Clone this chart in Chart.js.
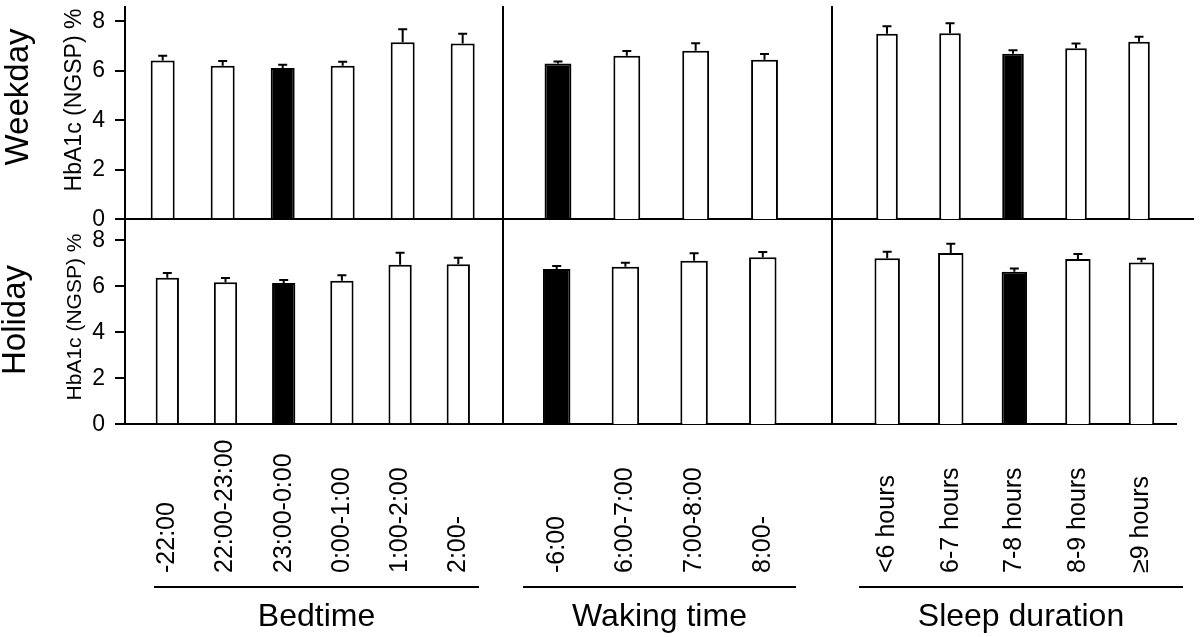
<!DOCTYPE html>
<html>
<head>
<meta charset="utf-8">
<script src="https://cdn.jsdelivr.net/npm/chart.js@4"></script>
<style>
  html, body { margin: 0; padding: 0; background: #fff; }
  #wrap { position: relative; width: 1200px; height: 637px; overflow: hidden; }
  #wrap canvas { position: absolute; left: 0; top: 0; }
</style>
</head>
<body>
<div id="wrap">
  <canvas id="c0" width="1200" height="637"></canvas>
  <canvas id="c1" width="1200" height="637"></canvas>
  <canvas id="c2" width="1200" height="637"></canvas>
  <canvas id="c3" width="1200" height="637"></canvas>
  <canvas id="c4" width="1200" height="637"></canvas>
  <canvas id="c5" width="1200" height="637"></canvas>
</div>
<script>
// categories
const bedtimeLabels = ['-22:00', '22:00-23:00', '23:00-0:00', '0:00-1:00', '1:00-2:00', '2:00-'];
const wakingLabels = ['-6:00', '6:00-7:00', '7:00-8:00', '8:00-'];
const durationLabels = ['<6 hours', '6-7 hours', '7-8 hours', '8-9 hours', '\u22659 hours'];

// HbA1c means (%) and upper error (SE)
const weekdayBedtime = [6.42, 6.21, 6.11, 6.21, 7.16, 7.10];
const weekdayBedtimeErr = [0.19, 0.19, 0.14, 0.16, 0.52, 0.40];
const weekdayWaking = [6.30, 6.61, 6.81, 6.45];
const weekdayWakingErr = [0.08, 0.19, 0.30, 0.23];
const weekdayDuration = [7.50, 7.52, 6.69, 6.91, 7.18];
const weekdayDurationErr = [0.30, 0.40, 0.14, 0.19, 0.20];

const holidayBedtime = [6.37, 6.17, 6.14, 6.24, 6.93, 6.96];
const holidayBedtimeErr = [0.21, 0.19, 0.13, 0.24, 0.53, 0.28];
const holidayWaking = [6.75, 6.85, 7.11, 7.26];
const holidayWakingErr = [0.13, 0.17, 0.32, 0.23];
const holidayDuration = [7.22, 7.45, 6.63, 7.19, 7.03];
const holidayDurationErr = [0.28, 0.40, 0.14, 0.21, 0.17];

// reference category (black bar) in each group
const refBedtime = 2, refWaking = 0, refDuration = 2;

const yTicks = [0, 2, 4, 6, 8];
const FONT = '"Liberation Sans", Arial, Helvetica, sans-serif';

const rows = [
  { label: 'Weekday', top: 7, bottom: 219.3, ymax: 8.58, labelX: 19, labelY: 97, titleX: 75, titleY: 100, titleSize: 23 },
  { label: 'Holiday', top: 220, bottom: 424.3, ymax: 8.88, labelX: 16, labelY: 320, titleX: 75, titleY: 317, titleSize: 21 }
];

const panels = [
  { id: 'c0', row: 0, cats: bedtimeLabels, vals: weekdayBedtime, errs: weekdayBedtimeErr, ref: refBedtime, left: 125, right: 502.7, xmin: -0.628, xmax: 5.667, yAxis: true },
  { id: 'c1', row: 0, cats: wakingLabels, vals: weekdayWaking, errs: weekdayWakingErr, ref: refWaking, left: 502.7, right: 831.7, xmin: -0.803, xmax: 3.976 },
  { id: 'c2', row: 0, cats: durationLabels, vals: weekdayDuration, errs: weekdayDurationErr, ref: refDuration, left: 831.7, right: 1193, xmin: -0.878, xmax: 4.857 },
  { id: 'c3', row: 1, cats: bedtimeLabels, vals: holidayBedtime, errs: holidayBedtimeErr, ref: refBedtime, left: 125, right: 502.7, xmin: -0.727, xmax: 5.763, yAxis: true,
    group: { text: 'Bedtime', x1: 154, x2: 479 } },
  { id: 'c4', row: 1, cats: wakingLabels, vals: holidayWaking, errs: holidayWakingErr, ref: refWaking, left: 502.7, right: 831.7, xmin: -0.786, xmax: 4.003,
    group: { text: 'Waking time', x1: 523, x2: 796 } },
  { id: 'c5', row: 1, cats: durationLabels, vals: holidayDuration, errs: holidayDurationErr, ref: refDuration, left: 831.7, right: 1176, xmin: -0.873, xmax: 4.543,
    group: { text: 'Sleep duration', x1: 859, x2: 1183 } }
];

const errorBars = {
  id: 'errorBars',
  afterDatasetsDraw(chart, args, opts) {
    const ctx = chart.ctx, y = chart.scales.y;
    const meta = chart.getDatasetMeta(0);
    const vals = chart.data.datasets[0].data;
    ctx.save();
    ctx.strokeStyle = '#000';
    ctx.lineWidth = 2;
    meta.data.forEach((bar, i) => {
      const top = y.getPixelForValue(vals[i].y);
      const end = y.getPixelForValue(vals[i].y + opts.errors[i]);
      ctx.beginPath();
      ctx.moveTo(bar.x, top);
      ctx.lineTo(bar.x, end);
      ctx.moveTo(bar.x - 4.5, end);
      ctx.lineTo(bar.x + 4.5, end);
      ctx.stroke();
    });
    ctx.restore();
  }
};

const decor = {
  id: 'decor',
  afterDraw(chart, args, opts) {
    const ctx = chart.ctx;
    ctx.save();
    ctx.fillStyle = '#000';
    if (opts.rowLabel) {
      const r = opts.rowLabel;
      ctx.save();
      ctx.translate(r.x, r.y);
      ctx.rotate(-Math.PI / 2);
      ctx.font = '33px ' + FONT;
      ctx.textAlign = 'center';
      ctx.textBaseline = 'middle';
      ctx.fillText(r.text, 0, 0);
      ctx.restore();
      ctx.save();
      ctx.translate(r.tx, r.ty);
      ctx.rotate(-Math.PI / 2);
      ctx.font = r.tsize + 'px ' + FONT;
      ctx.textAlign = 'center';
      ctx.textBaseline = 'middle';
      ctx.fillText('HbA1c (NGSP) %', 0, 0);
      ctx.restore();
    }
    if (opts.xLabels) {
      const x = chart.scales.x;
      ctx.font = '25px ' + FONT;
      ctx.textAlign = 'left';
      ctx.textBaseline = 'middle';
      opts.xLabels.forEach((t, i) => {
        ctx.save();
        ctx.translate(x.getPixelForValue(i), 573);
        ctx.rotate(-Math.PI / 2);
        ctx.fillText(t, 0, 0);
        ctx.restore();
      });
    }
    if (opts.group) {
      const g = opts.group;
      ctx.strokeStyle = '#000';
      ctx.lineWidth = 2;
      ctx.beginPath();
      ctx.moveTo(g.x1, 587);
      ctx.lineTo(g.x2, 587);
      ctx.stroke();
      ctx.font = '32px ' + FONT;
      ctx.textAlign = 'center';
      ctx.textBaseline = 'alphabetic';
      ctx.fillText(g.text, (g.x1 + g.x2) / 2, 626);
    }
    ctx.restore();
  }
};

panels.forEach((p) => {
  const r = rows[p.row];
  new Chart(document.getElementById(p.id).getContext('2d'), {
    type: 'bar',
    data: {
      datasets: [{
        data: p.vals.map((v, i) => ({ x: i, y: v })),
        backgroundColor: p.vals.map((v, i) => i === p.ref ? '#000' : '#fff'),
        borderColor: '#000',
        borderWidth: 2,
        barPercentage: 0.4,
        categoryPercentage: 1
      }]
    },
    options: {
      responsive: false,
      animation: false,
      layout: { padding: { left: p.yAxis ? 0 : p.left, right: 1200 - p.right, top: r.top, bottom: 637 - r.bottom } },
      plugins: {
        legend: { display: false },
        tooltip: { enabled: false },
        errorBars: { errors: p.errs },
        decor: {
          rowLabel: p.yAxis ? { text: r.label, x: r.labelX, y: r.labelY, tx: r.titleX, ty: r.titleY, tsize: r.titleSize } : null,
          xLabels: p.row === 1 ? p.cats : null,
          group: p.group || null
        }
      },
      scales: {
        x: {
          type: 'linear', min: p.xmin, max: p.xmax, offset: false,
          ticks: { display: false },
          grid: { display: false, drawTicks: false },
          border: { display: true, color: '#000', width: 2 }
        },
        y: {
          min: 0, max: r.ymax,
          afterBuildTicks: (s) => { s.ticks = yTicks.map((v) => ({ value: v })); },
          ticks: { display: !!p.yAxis, padding: 10, color: '#000', font: { family: FONT, size: 23 } },
          grid: { display: !!p.yAxis, drawOnChartArea: false, drawTicks: !!p.yAxis, tickLength: 10, color: '#000', lineWidth: 2 },
          border: { display: true, color: '#000', width: 2 },
          afterFit: (s) => {
            s.width = p.yAxis ? 125 : 0;
            s.paddingTop = 0;
            s.paddingBottom = 0;
          }
        }
      }
    },
    plugins: [errorBars, decor]
  });
});
</script>
</body>
</html>
